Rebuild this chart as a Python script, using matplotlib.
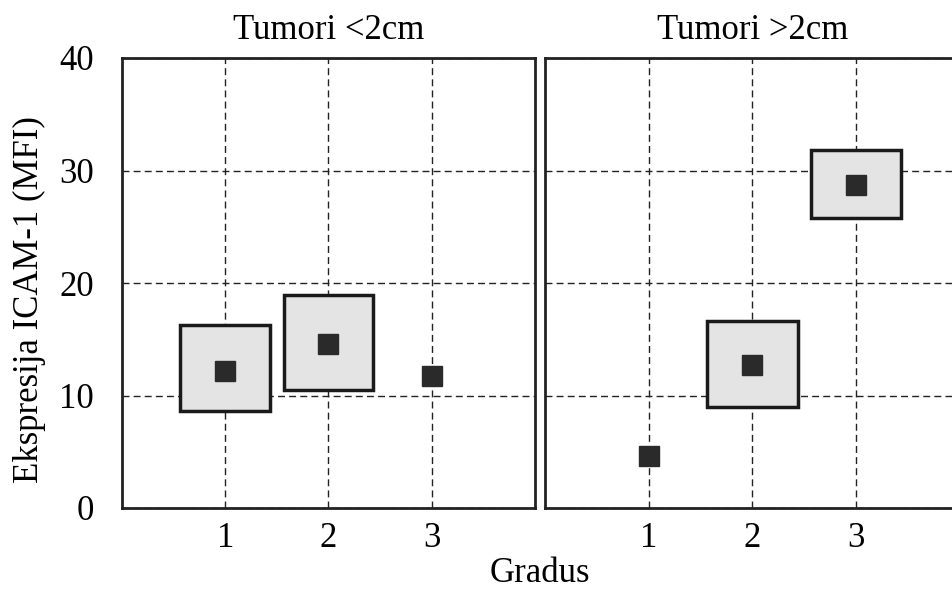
import matplotlib
matplotlib.use("Agg")
import matplotlib.pyplot as plt

# ── data ──────────────────────────────────────────────
panel_titles = ["Tumori <2cm", "Tumori >2cm"]
grades = [1, 2, 3]

# median of each grade, per panel
small_median = [12.2, 14.6, 11.7]
large_median = [4.6, 12.7, 28.7]
# interquartile boxes (None where only a single value is shown)
small_q1 = [8.6, 10.5, None]
small_q3 = [16.3, 18.9, None]
large_q1 = [None, 9.0, 25.8]
large_q3 = [None, 16.6, 31.8]

y_ticks = [0, 10, 20, 30, 40]
x_ticks = [1, 2, 3]

plt.rcParams["font.family"] = ["Liberation Serif", "DejaVu Serif"]
FS = 25

W, H = 953, 592
fig = plt.figure(figsize=(W / 100, H / 100), dpi=100)

# axes in pixel coords (left, bottom-from-top, width, height)
ax_l = fig.add_axes([122 / W, (H - 508) / H, 413 / W, 450 / H])
ax_r = fig.add_axes([545 / W, (H - 508) / H, 415 / W, 450 / H])

panels = [
    (ax_l, panel_titles[0], small_median, small_q1, small_q3),
    (ax_r, panel_titles[1], large_median, large_q1, large_q3),
]

for ax, title, med, q1, q3 in panels:
    ax.set_xlim(0, 4)
    ax.set_ylim(0, 40)
    ax.set_xticks(x_ticks)
    ax.set_yticks(y_ticks)
    ax.grid(True, color="#222222", linestyle=(0, (5, 3)), linewidth=1.0)
    ax.set_axisbelow(True)
    ax.tick_params(length=0, labelsize=FS, pad=10)
    for s in ax.spines.values():
        s.set_linewidth(2.0)
        s.set_color("#222222")

    for g, m, lo, hi in zip(grades, med, q1, q3):
        if lo is not None:
            ax.bar(g, hi - lo, bottom=lo, width=0.87, color="#e4e4e4",
                   edgecolor="#1a1a1a", linewidth=2.5, zorder=3)
        ax.plot(g, m, marker="s", markersize=14, color="#2a2a2a",
                linestyle="none", zorder=4)

    ax.set_title(title, fontsize=FS, pad=14)

ax_r.tick_params(labelleft=False)
ax_l.tick_params(axis="y", pad=20)

fig.text(540 / W, 1 - 574 / H, "Gradus", fontsize=FS, ha="center", va="center")
fig.text(29 / W, 1 - 300 / H, "Ekspresija ICAM-1 (MFI)", fontsize=FS,
         rotation=90, ha="center", va="center")

fig.savefig("out.png", dpi=100)
